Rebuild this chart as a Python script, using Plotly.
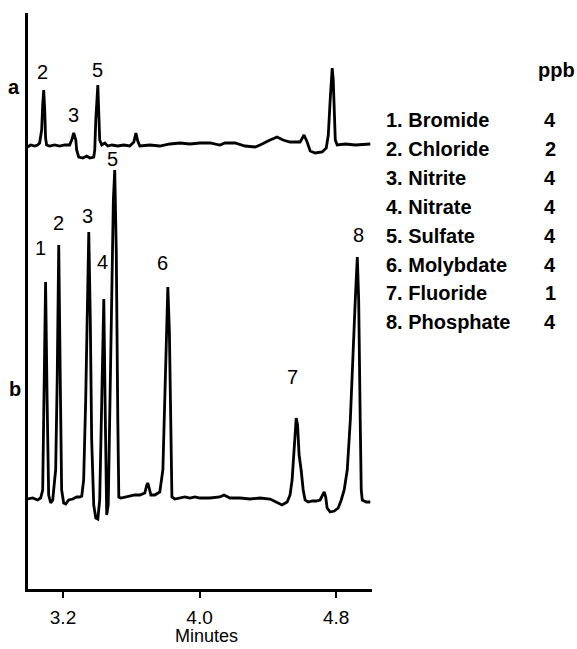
import plotly.graph_objects as go

# ---------------- data ----------------
# Trace a: retention time (min) and detector response (arbitrary units, relative to baseline)
time_a = [2.993, 3.010, 3.034, 3.051, 3.063, 3.075, 3.081, 3.087, 3.093, 3.098, 3.104,
          3.122, 3.151, 3.181, 3.210, 3.239, 3.251, 3.263, 3.275, 3.280, 3.292, 3.316,
          3.339, 3.357, 3.380, 3.386, 3.392, 3.398, 3.404, 3.409, 3.415, 3.427, 3.445,
          3.462, 3.486, 3.521, 3.556, 3.591, 3.615, 3.627, 3.638, 3.650, 3.709, 3.767,
          3.826, 3.885, 3.944, 4.002, 4.061, 4.119, 4.149, 4.208, 4.266, 4.325, 4.354,
          4.413, 4.454, 4.489, 4.530, 4.589, 4.612, 4.630, 4.648, 4.677, 4.718, 4.742,
          4.754, 4.765, 4.771, 4.777, 4.783, 4.789, 4.795, 4.806, 4.853, 4.912, 4.970, 5.000]
resp_a = [-2, 0, -1, 0, 2, 15, 40, 55, 35, 7, 0,
          -1, 0, -1, 0, 0, 5, 12, 5, -5, -12, -13,
          -11, -13, -12, -5, 25, 50, 60, 35, 5, 0, 2,
          -1, 0, -1, 0, -1, 3, 12, 4, -1, 0, -1,
          1, 2, 1, 2, 2, 0, 2, 2, -1, -2, 0,
          5, 8, 5, 3, 3, 10, 3, -6, -8, -7, -3,
          10, 45, 70, 77, 65, 25, 5, 0, 1, 0, 1, 1]

# Trace b: retention time (min) and detector response
time_b = [2.993, 3.022, 3.051, 3.069, 3.081, 3.090, 3.098, 3.107, 3.116, 3.128, 3.140,
          3.151, 3.157, 3.166, 3.175, 3.184, 3.192, 3.204, 3.216, 3.233, 3.257, 3.280,
          3.298, 3.310, 3.321, 3.333, 3.345, 3.351, 3.360, 3.368, 3.380, 3.392, 3.404,
          3.415, 3.427, 3.439, 3.448, 3.456, 3.465, 3.474, 3.486, 3.495, 3.503, 3.512,
          3.521, 3.527, 3.539, 3.562, 3.591, 3.621, 3.650, 3.679, 3.691, 3.697, 3.703,
          3.715, 3.738, 3.767, 3.785, 3.797, 3.809, 3.814, 3.823, 3.832, 3.838, 3.855,
          3.885, 3.914, 3.944, 3.973, 4.002, 4.061, 4.119, 4.143, 4.155, 4.178, 4.237,
          4.296, 4.354, 4.413, 4.460, 4.483, 4.513, 4.530, 4.542, 4.554, 4.566, 4.574,
          4.583, 4.595, 4.607, 4.618, 4.636, 4.660, 4.683, 4.706, 4.718, 4.730, 4.739,
          4.747, 4.765, 4.789, 4.812, 4.830, 4.847, 4.865, 4.883, 4.900, 4.912, 4.924,
          4.932, 4.941, 4.947, 4.953, 4.976, 5.000]
resp_b = [0, 1, -1, 1, 9, 99, 217, 99, 4, -4, -1,
          19, 29, 119, 254, 119, 9, -4, -5, -1, 0, 2,
          2, 3, 19, 99, 199, 267, 179, 59, -6, -19, -20,
          -1, 99, 200, 79, -16, -6, 79, 199, 299, 329, 249,
          79, 2, 1, 2, 3, 4, 4, 6, 14, 16, 12,
          4, 4, 7, 29, 99, 179, 212, 169, 29, 2, 0,
          1, 2, 1, 2, 1, 1, 2, 4, 3, 1, 1,
          0, 1, 0, -4, -6, -3, 4, 19, 49, 81, 74,
          44, 29, 9, -1, -3, -2, -2, -1, 3, 7, 2,
          -9, -13, -12, -9, -1, 9, 29, 79, 159, 199, 242,
          199, 79, 9, -1, -3, -3]

analytes = ["Bromide", "Chloride", "Nitrite", "Nitrate", "Sulfate",
            "Molybdate", "Fluoride", "Phosphate"]
ppb = [4, 2, 4, 4, 4, 4, 1, 4]

x_ticks = [3.2, 4.0, 4.8]
x_tick_labels = ["3.2", "4.0", "4.8"]
x_title = "Minutes"

# peak labels: (text, time)
peaks_a = ["2", "3", "5"]
peaks_a_time = [3.081, 3.263, 3.404]
peaks_b = ["1", "2", "3", "4", "5", "6", "7", "8"]
peaks_b_time = [3.069, 3.175, 3.345, 3.433, 3.492, 3.785, 4.542, 4.930]

# ---------------- layout constants ----------------
OFFSET_A = 444
OFFSET_B = 90
label_y_a = [517, 474, 519]
label_y_b = [341, 366, 373, 327, 430, 326, 212, 354]

FONT = "Liberation Sans, Arial, sans-serif"

fig = go.Figure()
fig.add_trace(go.Scatter(x=time_a, y=[v + OFFSET_A for v in resp_a], mode="lines",
                         line=dict(color="black", width=2.8), hoverinfo="skip"))
fig.add_trace(go.Scatter(x=time_b, y=[v + OFFSET_B for v in resp_b], mode="lines",
                         line=dict(color="black", width=2.8), hoverinfo="skip"))

ann = []
for t, x, y in zip(peaks_a, peaks_a_time, label_y_a):
    ann.append(dict(x=x, y=y, xref="x", yref="y", text=t, showarrow=False,
                    xanchor="center", yanchor="middle",
                    font=dict(family=FONT, size=20, color="black")))
for t, x, y in zip(peaks_b, peaks_b_time, label_y_b):
    ann.append(dict(x=x, y=y, xref="x", yref="y", text=t, showarrow=False,
                    xanchor="center", yanchor="middle",
                    font=dict(family=FONT, size=20, color="black")))

# trace letters
PW, PH, L, T = 344, 576, 28, 13
def px(xp):
    return (xp - L) / PW
def py(yp):
    return (T + PH - yp) / PH

def paper_text(x, y, text, size, xanchor="center"):
    return dict(x=px(x), y=py(y), xref="paper", yref="paper", text=text,
                xanchor=xanchor, yanchor="middle", showarrow=False,
                font=dict(family=FONT, size=size, color="black"))

ann.append(paper_text(14, 87, "<b>a</b>", 20))
ann.append(paper_text(15, 389, "<b>b</b>", 20))
ann.append(paper_text(206, 636, x_title, 18))

# legend table
ann.append(paper_text(556, 70, "<b>ppb</b>", 20))
for i, (name, c) in enumerate(zip(analytes, ppb)):
    yy = 120 + 28.9 * i
    ann.append(paper_text(384, yy, f"<b>{i + 1}. {name}</b>", 20, xanchor="left"))
    ann.append(paper_text(550, yy, f"<b>{c}</b>", 20))

fig.update_layout(
    width=577, height=649,
    margin=dict(l=L, r=577 - L - PW, t=T, b=649 - T - PH, autoexpand=False),
    paper_bgcolor="white", plot_bgcolor="white",
    showlegend=False,
    annotations=ann,
    xaxis=dict(range=[2.995, 5.01], showgrid=False, zeroline=False, automargin=False,
               showline=True, linecolor="black", linewidth=3,
               ticks="outside", ticklen=6, tickwidth=2, tickcolor="black",
               tickvals=x_ticks, ticktext=x_tick_labels, ticklabelstandoff=3,
               tickfont=dict(family=FONT, size=19, color="black")),
    yaxis=dict(range=[0, 576], showgrid=False, zeroline=False, automargin=False,
               showline=True, linecolor="black", linewidth=3,
               showticklabels=False, ticks=""),
)

fig.write_html("out.html")
